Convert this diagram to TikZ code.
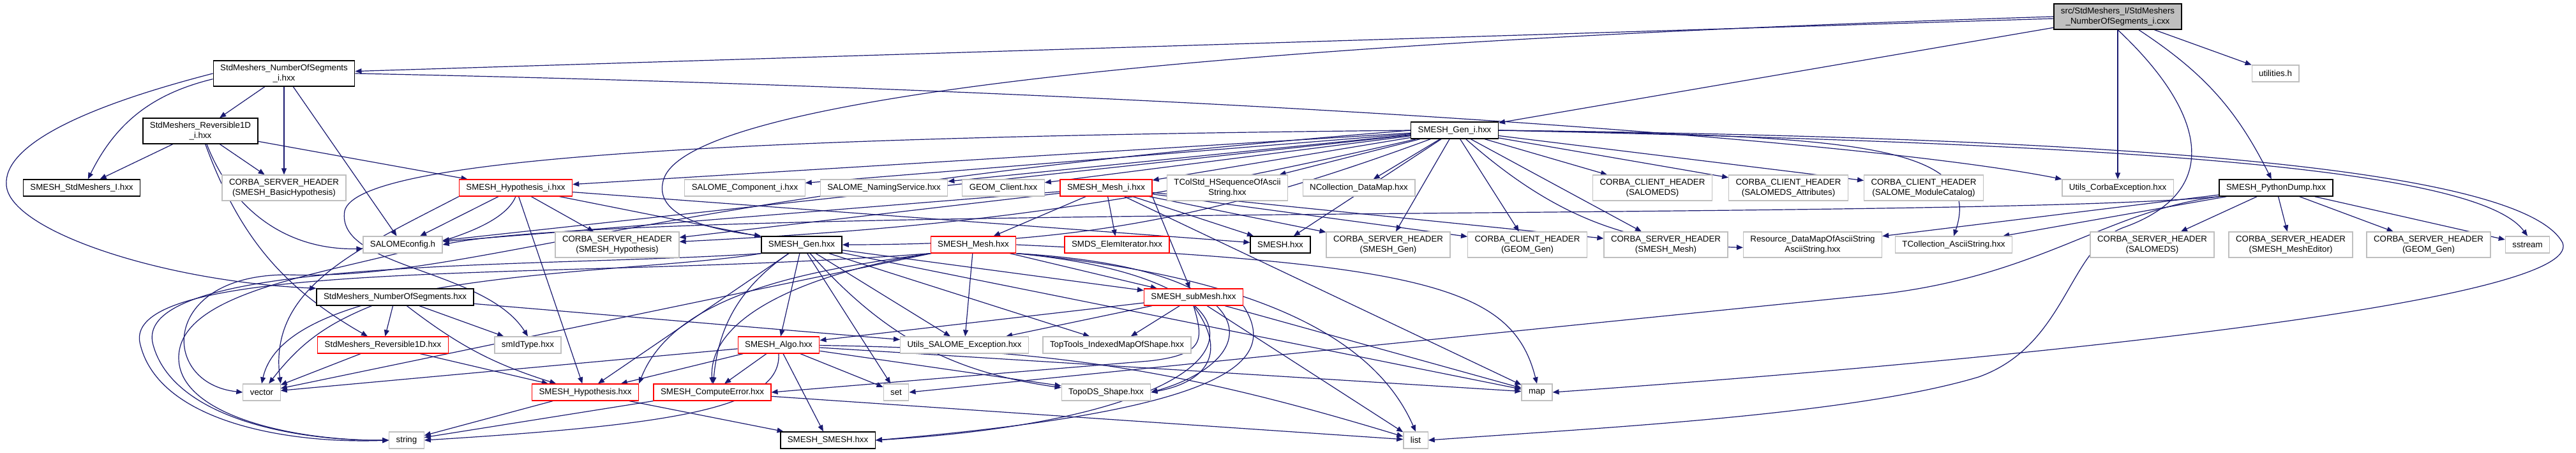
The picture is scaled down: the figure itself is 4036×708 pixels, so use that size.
\documentclass[tikz,border=0pt]{standalone}
\usepackage{fontspec}
\setmainfont{Liberation Sans}
\usepackage{tikz}
\usetikzlibrary{arrows.meta}

\definecolor{incblue}{HTML}{191970}
\definecolor{sysgray}{HTML}{BFBFBF}
\newcommand{\doxfont}{\fontsize{3.325}{3.875}\selectfont}
\pgfdeclarelayer{back}
\pgfsetlayers{back,main}

\begin{document}
\begin{tikzpicture}[x=0.25pt, y=-0.25pt, >={Triangle[length=2.5pt,width=2pt]},
    hdr/.style={draw=black, line width=0.35pt, fill=white, font=\doxfont, align=center,
                inner xsep=2.75pt, inner ysep=0pt, minimum height=6.5pt},
    sys/.style={hdr, draw=sysgray, line width=0.3pt},
    nodoc/.style={hdr, draw=red, line width=0.3pt},
    srcfile/.style={hdr, fill=sysgray},
    tall/.style={minimum height=10pt},
    inc/.style={->, color=incblue, line width=0.3pt}]
    \useasboundingbox (0,0) rectangle (4036,708);

    % Nodes {source file, then the headers row by row}
    \node [srcfile, tall] (root)      at (3318,26)  {src/StdMeshers\_I/StdMeshers\\\_NumberOfSegments\_i.cxx};
    \node [hdr, tall]     (numsegi)   at (445,115)  {StdMeshers\_NumberOfSegments\\\_i.hxx};
    \node [sys]           (utilities) at (3565,115) {utilities.h};
    \node [hdr, tall]     (revi)      at (314,205)  {StdMeshers\_Reversible1D\\\_i.hxx};
    \node [hdr]           (geni)      at (2279,204) {SMESH\_Gen\_i.hxx};

    \node [hdr]           (stdi)      at (128,294)  {SMESH\_StdMeshers\_I.hxx};
    \node [sys, tall]     (csbasic)   at (445,294)  {CORBA\_SERVER\_HEADER\\(SMESH\_BasicHypothesis)};
    \node [nodoc]         (hypi)      at (808,294)  {SMESH\_Hypothesis\_i.hxx};
    \node [sys]           (compi)     at (1167,294) {SALOME\_Component\_i.hxx};
    \node [sys]           (naming)    at (1385,294) {SALOME\_NamingService.hxx};
    \node [sys]           (geomcl)    at (1572,294) {GEOM\_Client.hxx};
    \node [nodoc]         (meshi)     at (1733,294) {SMESH\_Mesh\_i.hxx};
    \node [sys, tall]     (tcolseq)   at (1923,294) {TColStd\_HSequenceOfAscii\\String.hxx};
    \node [sys]           (ncoll)     at (2129,294) {NCollection\_DataMap.hxx};
    \node [sys, tall]     (ccsds)     at (2589,294) {CORBA\_CLIENT\_HEADER\\(SALOMEDS)};
    \node [sys, tall]     (ccattr)    at (2802,294) {CORBA\_CLIENT\_HEADER\\(SALOMEDS\_Attributes)};
    \node [sys, tall]     (cccat)     at (3014,294) {CORBA\_CLIENT\_HEADER\\(SALOME\_ModuleCatalog)};
    \node [sys]           (corbaex)   at (3318,294) {Utils\_CorbaException.hxx};
    \node [hdr]           (pydump)    at (3566,294) {SMESH\_PythonDump.hxx};

    \node [sys]           (config)    at (631,383)  {SALOMEconfig.h};
    \node [sys, tall]     (cshyp)     at (967,383)  {CORBA\_SERVER\_HEADER\\(SMESH\_Hypothesis)};
    \node [hdr]           (gen)       at (1256,383) {SMESH\_Gen.hxx};
    \node [nodoc]         (mesh)      at (1525,383) {SMESH\_Mesh.hxx};
    \node [nodoc]         (elemit)    at (1750,383) {SMDS\_ElemIterator.hxx};
    \node [hdr]           (smesh)     at (2006,383) {SMESH.hxx};
    \node [sys, tall]     (csgen)     at (2175,383) {CORBA\_SERVER\_HEADER\\(SMESH\_Gen)};
    \node [sys, tall]     (ccgeom)    at (2393,383) {CORBA\_CLIENT\_HEADER\\(GEOM\_Gen)};
    \node [sys, tall]     (csmesh)    at (2610,383) {CORBA\_SERVER\_HEADER\\(SMESH\_Mesh)};
    \node [sys, tall]     (resdm)     at (2840,383) {Resource\_DataMapOfAsciiString\\AsciiString.hxx};
    \node [sys]           (tcollas)   at (3061,383) {TCollection\_AsciiString.hxx};
    \node [sys, tall]     (cssds)     at (3372,383) {CORBA\_SERVER\_HEADER\\(SALOMEDS)};
    \node [sys, tall]     (cseditor)  at (3589,383) {CORBA\_SERVER\_HEADER\\(SMESH\_MeshEditor)};
    \node [sys, tall]     (csgeom)    at (3805,383) {CORBA\_SERVER\_HEADER\\(GEOM\_Gen)};
    \node [sys]           (sstream)   at (3960,383) {sstream};

    \node [hdr]           (numseg)    at (619,465)  {StdMeshers\_NumberOfSegments.hxx};
    \node [nodoc]         (submesh)   at (1870,465) {SMESH\_subMesh.hxx};

    \node [nodoc]         (rev)       at (600,540)  {StdMeshers\_Reversible1D.hxx};
    \node [sys]           (smidtype)  at (827,540)  {smIdType.hxx};
    \node [nodoc]         (algo)      at (1220,540) {SMESH\_Algo.hxx};
    \node [sys]           (utilsexc)  at (1511,540) {Utils\_SALOME\_Exception.hxx};
    \node [sys]           (toptools)  at (1750,540) {TopTools\_IndexedMapOfShape.hxx};

    \node [sys]           (vector)    at (410,614)  {vector};
    \node [nodoc]         (hyp)       at (917,614)  {SMESH\_Hypothesis.hxx};
    \node [nodoc]         (comperr)   at (1116,614) {SMESH\_ComputeError.hxx};
    \node [sys]           (set)       at (1404,614) {set};
    \node [sys]           (topods)    at (1733,614) {TopoDS\_Shape.hxx};
    \node [sys]           (map)       at (2408,614) {map};

    \node [sys]           (string)    at (637,689)  {string};
    \node [hdr]           (smeshsmesh) at (1297,689) {SMESH\_SMESH.hxx};
    \node [sys]           (list)      at (2218,689) {list};

    \begin{pgfonlayer}{back}
    \fill [white] (0,0) rectangle (4036,708);

    % Paths from the source file
    \path [inc] (root) edge (numsegi);
    \path [inc] (root) edge (geni);
    \path [inc] (root) edge (corbaex);
    \path [inc] (root) edge [bend left=15] (pydump);
    \path [inc] (root) edge (utilities);
    \draw [inc] (root.west) .. controls (1800,70) and (1080,160) .. (1040,280) .. controls (1020,340) and (1120,360) .. (gen.north west);
    \draw [inc] (root.south) .. controls (3460,180) and (3480,300) .. (3330,355) .. controls (3240,385) and (3240,540) .. (3100,590) .. controls (2900,650) and (2500,670) .. (list.east);

    % Paths from StdMeshers_NumberOfSegments_i.hxx
    \path [inc] (numsegi) edge [bend right=25] (stdi);
    \path [inc] (numsegi) edge (revi);
    \path [inc] (numsegi) edge (csbasic);
    \path [inc] (numsegi) edge (config);
    \draw [inc] (numsegi.west) .. controls (120,170) and (5,230) .. (10,290) .. controls (15,360) and (250,440) .. (numseg.north west);
    \draw [inc] (numsegi.east) .. controls (1800,140) and (2900,215) .. (corbaex.north west);

    % Paths from StdMeshers_Reversible1D_i.hxx
    \path [inc] (revi) edge (stdi);
    \path [inc] (revi) edge (csbasic);
    \path [inc] (revi) edge (hypi);
    \path [inc] (revi) edge [bend right=35] (config);
    \path [inc] (revi) edge [bend right=20] (rev);

    % Paths from SMESH_Hypothesis_i.hxx
    \path [inc] (hypi) edge (config);
    \path [inc] (hypi) edge (cshyp);
    \path [inc] (hypi) edge (gen);
    \path [inc] (hypi) edge (smesh);
    \path [inc] (hypi) edge (hyp);
    \draw [inc] (hypi.south west) .. controls (560,390) and (420,450) .. (vector.north east);
    \draw [inc] (hypi.south) .. controls (760,420) and (280,410) .. (280,560) .. controls (280,650) and (460,690) .. (string.west);

    % Paths from SMESH_Gen_i.hxx
    \path [inc] (geni) edge (config);
    \path [inc] (geni) edge [bend left=5] (cshyp);
    \path [inc] (geni) edge (hypi);
    \path [inc] (geni) edge (compi);
    \path [inc] (geni) edge (naming);
    \path [inc] (geni) edge (geomcl);
    \path [inc] (geni) edge (meshi);
    \path [inc] (geni) edge (tcolseq);
    \path [inc] (geni) edge (ncoll);
    \path [inc] (geni) edge (ccsds);
    \path [inc] (geni) edge (ccattr);
    \path [inc] (geni) edge (cccat);
    \path [inc] (geni) edge [bend left=10] (gen);
    \path [inc] (geni) edge (smesh);
    \path [inc] (geni) edge (csgen);
    \path [inc] (geni) edge (ccgeom);
    \path [inc] (geni) edge (csmesh);
    \path [inc] (geni) edge [bend right=20] (resdm);
    \draw [inc] (geni.east) .. controls (2900,212) and (3110,225) .. (tcollas.north);
    \draw [inc] (geni.east) .. controls (3300,225) and (3880,260) .. (sstream.north);
    \draw [inc] (geni.east) .. controls (3300,215) and (3950,260) .. (4015,380) .. controls (4050,470) and (3200,560) .. (map.east);
    \draw [inc] (geni.west) .. controls (1100,215) and (560,250) .. (540,330) .. controls (525,420) and (760,420) .. (smidtype.north);
    \draw [inc] (geni.west) .. controls (1000,300) and (750,440) .. (450,430) .. controls (250,430) and (250,600) .. (vector.west);

    % Paths from SMESH_Mesh_i.hxx
    \path [inc] (meshi) edge (mesh);
    \path [inc] (meshi) edge (elemit);
    \path [inc] (meshi.south east) edge (submesh);
    \path [inc] (meshi) edge (smesh);
    \path [inc] (meshi) edge (config);
    \path [inc] (meshi) edge (cshyp);
    \path [inc] (meshi) edge (csgen);
    \path [inc] (meshi) edge (ccgeom);
    \path [inc] (meshi) edge (csmesh);
    \path [inc] (meshi) edge (map);

    % Paths from SMESH_PythonDump.hxx
    \path [inc] (pydump) edge (cssds);
    \path [inc] (pydump) edge (cseditor);
    \path [inc] (pydump) edge (csgeom);
    \path [inc] (pydump) edge (sstream);
    \path [inc] (pydump) edge (tcollas);
    \path [inc] (pydump) edge (resdm);
    \draw [inc] (pydump.south west) .. controls (3100,345) and (1000,320) .. (config.east);
    \draw [inc] (pydump.south west) .. controls (3300,330) and (3200,430) .. (2950,460) -- (set.east);

    % Paths from SMESH_Gen.hxx
    \path [inc] (gen) edge [bend right=25] (comperr);
    \path [inc] (gen) edge (algo);
    \path [inc] (gen) edge (set);
    \path [inc] (gen) edge [bend right=20] (topods);
    \path [inc] (gen) edge (utilsexc);
    \path [inc] (gen) edge (toptools);
    \path [inc] (gen) edge (hyp);
    \path [inc] (gen) edge (submesh);
    \path [inc] (gen) edge (map);
    \draw [inc] (gen.south west) .. controls (1000,430) and (450,420) .. (vector.north);
    \draw [inc] (gen.south west) .. controls (850,420) and (200,400) .. (240,540) .. controls (270,650) and (450,690) .. (string.west);

    % Paths from SMESH_Mesh.hxx
    \path [inc] (mesh) edge (utilsexc);
    \path [inc] (mesh) edge (submesh);
    \path [inc] (mesh) edge (vector);
    \draw [inc] (mesh.south west) .. controls (1250,430) and (1110,500) .. (comperr.north);
    \draw [inc] (mesh.south west) .. controls (1300,420) and (1060,450) .. (hyp.north east);
    \draw [inc] (mesh.south east) .. controls (1990,420) and (1990,560) .. (topods.east);
    \draw [inc] (mesh.south east) .. controls (2040,440) and (2010,650) .. (smeshsmesh.east);
    \draw [inc] (mesh.east) .. controls (2235,413) and (2370,450) .. (map.north);
    \draw [inc] (mesh.south east) .. controls (1950,430) and (2150,520) .. (list.north);
    \draw [inc] (mesh.south west) .. controls (900,440) and (180,400) .. (220,540) .. controls (250,660) and (450,695) .. (string.west);

    % Paths from SMESH_subMesh.hxx
    \path [inc] (submesh) edge (algo);
    \path [inc] (submesh) edge (utilsexc);
    \path [inc] (submesh) edge (toptools);
    \path [inc] (submesh) edge (map);
    \path [inc] (submesh) edge (list);
    \draw [inc] (submesh.south) .. controls (1930,560) and (1880,600) .. (topods.east);
    \draw [inc] (submesh.south) .. controls (1885,530) and (1890,555) .. (1800,565) -- (comperr.east);
    \draw [inc] (submesh.south east) .. controls (2000,560) and (1950,640) .. (smeshsmesh.east);

    % Paths from SMESH_Algo.hxx
    \path [inc] (algo) edge (comperr);
    \path [inc] (algo) edge (smeshsmesh);
    \path [inc] (algo) edge (set);
    \path [inc] (algo) edge (topods);
    \path [inc] (algo) edge (hyp);
    \path [inc] (algo) edge (vector);
    \path [inc] (algo) edge (map);
    \path [inc] (algo) edge [bend left=8] (list);
    \draw [inc] (algo.south) .. controls (1225,640) and (1050,665) .. (string.east);

    % Paths from the remaining headers
    \path [inc] (numseg) edge (rev);
    \path [inc] (numseg) edge (smidtype);
    \path [inc] (numseg) edge [bend right=10] (hyp);
    \path [inc] (numseg) edge [bend right=15] (vector);
    \path [inc] (numseg) edge (utilsexc);
    \path [inc] (rev) edge (vector);
    \path [inc] (rev) edge (hyp);
    \path [inc] (hyp) edge (smeshsmesh);
    \path [inc] (hyp) edge (string);
    \path [inc] (comperr) edge (list);
    \path [inc] (comperr.south west) edge (string);
    \end{pgfonlayer}

\end{tikzpicture}
\end{document}
